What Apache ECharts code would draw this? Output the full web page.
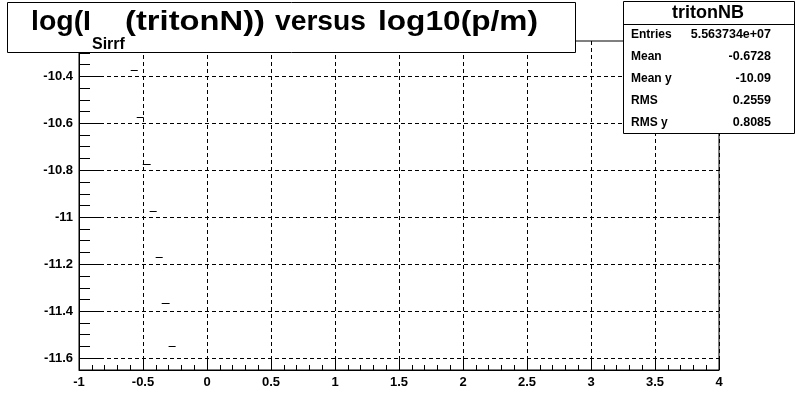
<!DOCTYPE html>
<html>
<head>
<meta charset="utf-8">
<script src="https://cdn.jsdelivr.net/npm/echarts@6/dist/echarts.min.js"></script>
<style>
html,body{margin:0;padding:0;background:#fff;}
#chart{width:799px;height:412px;}
</style>
</head>
<body>
<div id="chart"></div>
<script>
// ---- data ----
const binLow  = [-0.596, -0.549, -0.502, -0.448, -0.401, -0.354, -0.300];
const binHigh = [-0.541, -0.494, -0.440, -0.393, -0.346, -0.292, -0.245];
const yValues = [-10.373, -10.573, -10.773, -10.973, -11.169, -11.365, -11.548];

const yMajorTicks = [-11.6, -11.4, -11.2, -11.0, -10.8, -10.6, -10.4];
const yMinorTicks = [-11.65, -11.6, -11.55, -11.5, -11.45, -11.4, -11.35, -11.3, -11.25, -11.2, -11.15, -11.1, -11.05, -11.0,
                     -10.95, -10.9, -10.85, -10.8, -10.75, -10.7, -10.65, -10.6, -10.55, -10.5, -10.45, -10.4, -10.35, -10.3];

// title pieces: main text, subscript, rest
const titlePieces = ['log(I', '(tritonN))', 'versus', 'log10(p/m)'];
const titleSub = 'Sirrf';

const statsTitle = 'tritonNB';
const statLabels = ['Entries', 'Mean', 'Mean y', 'RMS', 'RMS y'];
const statValues = ['5.563734e+07', '-0.6728', '-10.09', '0.2559', '0.8085'];

// ---- layout ----
const FONT = 'Liberation Sans, Arial, Helvetica, sans-serif';
const mc = document.createElement('canvas').getContext('2d');
function textW(str, size) { mc.font = 'bold ' + size + 'px ' + FONT; return mc.measureText(str).width; }

const mainSize = 28, subSize = 16;
// horizontal slots (left, width) of each title piece in the picture
const pieceSlots = [[31, 60], [125, 140], [275, 91], [378, 160]];

const graphic = [
  { type: 'rect', shape: { x: 7.5, y: 2.5, width: 568, height: 50 }, style: { fill: '#fff', stroke: '#000', lineWidth: 1 }, z: 100 },
  { type: 'text', x: 92, y: 45, z: 101, style: { text: titleSub, font: 'bold ' + subSize + 'px ' + FONT, fill: '#000', verticalAlign: 'middle', align: 'left' } },
  { type: 'rect', shape: { x: 623.5, y: 1.5, width: 171, height: 132 }, style: { fill: '#fff', stroke: '#000', lineWidth: 1 }, z: 100 },
  { type: 'line', shape: { x1: 623.5, y1: 24.5, x2: 794.5, y2: 24.5 }, style: { stroke: '#000', lineWidth: 1 }, z: 101 },
  { type: 'text', x: 708, y: 13, z: 101, style: { text: statsTitle, font: 'bold 18px ' + FONT, fill: '#000', align: 'center', verticalAlign: 'middle' } }
];
titlePieces.forEach((t, i) => {
  const slot = pieceSlots[i];
  const w = textW(t, mainSize);
  graphic.push({ type: 'text', x: slot[0], y: 22, scaleX: slot[1] / w, z: 101,
    style: { text: t, font: 'bold ' + mainSize + 'px ' + FONT, fill: '#000', verticalAlign: 'middle', align: 'left' } });
});
statLabels.forEach((lab, i) => {
  const yy = 35 + 22 * i;
  graphic.push({ type: 'text', x: 631, y: yy, z: 101, style: { text: lab, font: 'bold 12px ' + FONT, fill: '#000', align: 'left', verticalAlign: 'middle' } });
  graphic.push({ type: 'text', x: 771, y: yy, z: 101, style: { text: statValues[i], font: 'bold 12.5px ' + FONT, fill: '#000', align: 'right', verticalAlign: 'middle' } });
});

const segData = yValues.map((y, i) => [binLow[i], binHigh[i], y]);

const chart = echarts.init(document.getElementById('chart'), null, { renderer: 'canvas' });
chart.setOption({
  backgroundColor: '#fff',
  animation: false,
  grid: { left: 79, right: 80, top: 41, bottom: 42, show: true, borderColor: '#000', borderWidth: 1, backgroundColor: 'transparent' },
  xAxis: {
    type: 'value', min: -1, max: 4, interval: 0.5,
    axisLine: { show: true, onZero: false, lineStyle: { color: '#000', width: 1 } },
    axisTick: { show: true, inside: true, length: 11, lineStyle: { color: '#000' } },
    minorTick: { show: true, splitNumber: 5, length: 5, lineStyle: { color: '#000' } },
    splitLine: { show: true, lineStyle: { color: '#000', type: [4, 3], width: 1 } },
    minorSplitLine: { show: false },
    axisLabel: { color: '#000', fontFamily: FONT, fontWeight: 'bold', fontSize: 13, margin: 6 }
  },
  yAxis: [
    {
      type: 'value', min: -11.65, max: -10.25,
      axisLine: { show: true, onZero: false, lineStyle: { color: '#000', width: 1 } },
      axisTick: { show: true, inside: true, length: 21, customValues: yMajorTicks, lineStyle: { color: '#000' } },
      splitLine: { show: true, lineStyle: { color: '#000', type: [4, 3], width: 1 } },
      axisLabel: { show: true, customValues: yMajorTicks, color: '#000', fontFamily: FONT, fontWeight: 'bold', fontSize: 13, margin: 6,
        formatter: v => String(parseFloat(Number(v).toFixed(1))) }
    },
    {
      type: 'value', min: -11.65, max: -10.25, position: 'left',
      axisLine: { show: false, onZero: false },
      axisTick: { show: true, inside: true, length: 11, customValues: yMinorTicks, lineStyle: { color: '#000' } },
      splitLine: { show: false },
      axisLabel: { show: false }
    }
  ],
  series: [{
    type: 'custom',
    xAxisIndex: 0, yAxisIndex: 0,
    data: segData,
    encode: { x: [0, 1], y: 2 },
    renderItem: function (params, api) {
      const p1 = api.coord([api.value(0), api.value(2)]);
      const p2 = api.coord([api.value(1), api.value(2)]);
      const y = Math.round(p1[1]) + 0.5;
      return { type: 'line', shape: { x1: p1[0], y1: y, x2: p2[0], y2: y }, style: { stroke: '#000', lineWidth: 1 } };
    }
  }],
  graphic: graphic
});
</script>
</body>
</html>
